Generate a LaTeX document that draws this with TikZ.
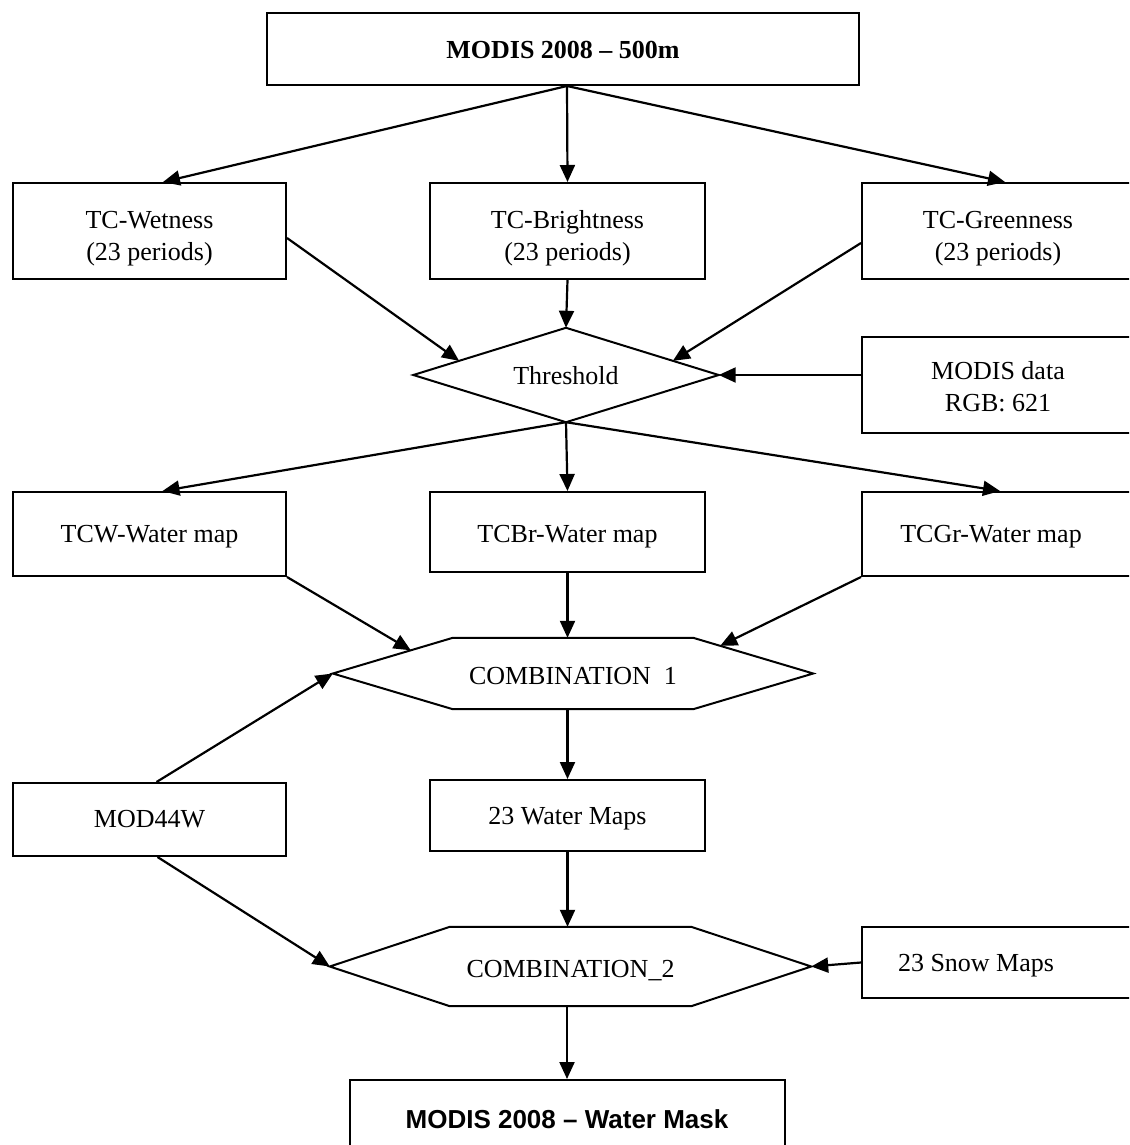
\documentclass[tikz,border=0pt]{standalone}
\usepackage{fontspec}
\setmainfont{Liberation Serif}
\newfontfamily\arialf{Liberation Sans}
\usetikzlibrary{arrows.meta,calc}
\newcommand\myfs{\fontsize{26}{31.7}\selectfont}
\newcommand\dn[2]{\raisebox{-#1}[\height][\depth]{\begin{tabular}{@{}c@{}}#2\end{tabular}}}
\begin{document}
\begin{tikzpicture}[x=1pt,y=-1pt,
  box/.style={draw, line width=2pt, inner sep=0pt, align=center, font=\myfs},
  lbl/.style={inner sep=0pt, align=center, font=\myfs},
  conn/.style={line width=2.2pt, -{Triangle[length=17pt,width=15pt]}},
  shp/.style={draw, line width=2pt, line join=miter}]
\useasboundingbox (0,0) rectangle (1129,1145);
\clip (0,0) rectangle (1129,1145);
\fill[white] (0,0) rectangle (1129,1145);

% nodes
\node[box, minimum width=592pt, minimum height=72pt, font=\bfseries\myfs] (top) at (563,49) {\dn{3pt}{MODIS 2008 – 500m}};
\node[box, minimum width=273pt, minimum height=96pt] (wet) at (149.5,231) {\dn{7pt}{TC-Wetness\\(23 periods)}};
\node[box, minimum width=275pt, minimum height=96pt] (bri) at (567.5,231) {\dn{7pt}{TC-Brightness\\(23 periods)}};
\node[box, minimum width=272pt, minimum height=96pt] (grn) at (998,231) {\dn{7pt}{TC-Greenness\\(23 periods)}};
\node[lbl, minimum width=305pt, minimum height=94pt] (thr) at (566,375) {\dn{3pt}{Threshold}};
\node[box, minimum width=272pt, minimum height=96pt] (mdat) at (998,385) {\dn{4pt}{MODIS data\\RGB: 621}};
\node[box, minimum width=273pt, minimum height=84pt] (tcw) at (149.5,534) {\dn{2pt}{TCW-Water map}};
\node[box, minimum width=275pt, minimum height=80pt] (tcbr) at (567.5,532) {\dn{4pt}{TCBr-Water map}};
\node[box, minimum width=272pt, minimum height=84pt] (tcgr) at (998,534) {\dn{2pt}{\kern-14pt TCGr-Water map}};
\node[lbl, minimum width=480pt, minimum height=71pt] (h1) at (573,673.5) {\dn{5pt}{COMBINATION\ \ 1}};
\node[box, minimum width=273pt, minimum height=73pt] (mod) at (149.5,819.5) {\dn{2pt}{MOD44W}};
\node[box, minimum width=275pt, minimum height=71pt] (wm) at (567.5,815.5) {\dn{3pt}{23 Water Maps}};
\node[lbl, minimum width=481pt, minimum height=79pt] (h2) at (570.5,966.5) {\dn{5pt}{COMBINATION\_2}};
\node[box, minimum width=272pt, minimum height=71pt] (snow) at (998,962.5) {\dn{3pt}{\kern-44pt 23 Snow Maps}};
\node[box, minimum width=435pt, minimum height=76pt, font=\arialf\bfseries\myfs] (bot) at (567,1118) {\dn{4pt}{MODIS 2008 – Water Mask}};

% shapes
\draw[shp] (thr.west) -- (thr.north) -- (thr.east) -- (thr.south) -- cycle;
\coordinate (h1a) at ($(h1.north west)+(120,0)$);
\coordinate (h1b) at ($(h1.north east)+(-120,0)$);
\coordinate (h1c) at ($(h1.south east)+(-120,0)$);
\coordinate (h1d) at ($(h1.south west)+(120,0)$);
\draw[shp] (h1.west) -- (h1a) -- (h1b) -- (h1.east) -- (h1c) -- (h1d) -- cycle;
\coordinate (h2a) at ($(h2.north west)+(120,0)$);
\coordinate (h2b) at ($(h2.north east)+(-120,0)$);
\coordinate (h2c) at ($(h2.south east)+(-120,0)$);
\coordinate (h2d) at ($(h2.south west)+(120,0)$);
\draw[shp] (h2.west) -- (h2a) -- (h2b) -- (h2.east) -- (h2c) -- (h2d) -- cycle;

% connectors
\draw[conn] ($(top.south)+(4,0)$) -- ($(wet.north)+(13.5,0)$);
\draw[conn] ($(top.south)+(4,0)$) -- (bri.north);
\draw[conn] ($(top.south)+(4,0)$) -- ($(grn.north)+(7,0)$);
\draw[conn] ($(wet.east)+(0,7)$) -- ($(thr.west)!0.3!(thr.north)$);
\draw[conn] (bri.south) -- (thr.north);
\draw[conn] ($(grn.west)+(0,12)$) -- ($(thr.east)!0.3!(thr.north)$);
\draw[conn] ($(mdat.west)+(0,-10)$) -- (thr.east);
\draw[conn] (thr.south) -- ($(tcw.north)+(13,0)$);
\draw[conn] (thr.south) -- (tcbr.north);
\draw[conn] (thr.south) -- ($(tcgr.north)+(2,0)$);
\draw[conn] (tcw.south east) -- ($(h1.west)!0.65!(h1a)$);
\draw[conn] (tcbr.south) -- (tcbr.south |- h1.north);
\draw[conn] (tcgr.south west) -- ($(h1b)!0.225!(h1.east)$);
\draw[conn] ($(mod.north)+(7,0)$) -- (h1.west);
\draw[conn] (wm.north |- h1.south) -- (wm.north);
\draw[conn] (wm.south) -- (wm.south |- h2.north);
\draw[conn] ($(mod.south)+(8,0)$) -- (h2.west);
\draw[conn] (snow.west) -- (h2.east);
\draw[conn] (bot.north |- h2.south) -- (bot.north);
\end{tikzpicture}
\end{document}
